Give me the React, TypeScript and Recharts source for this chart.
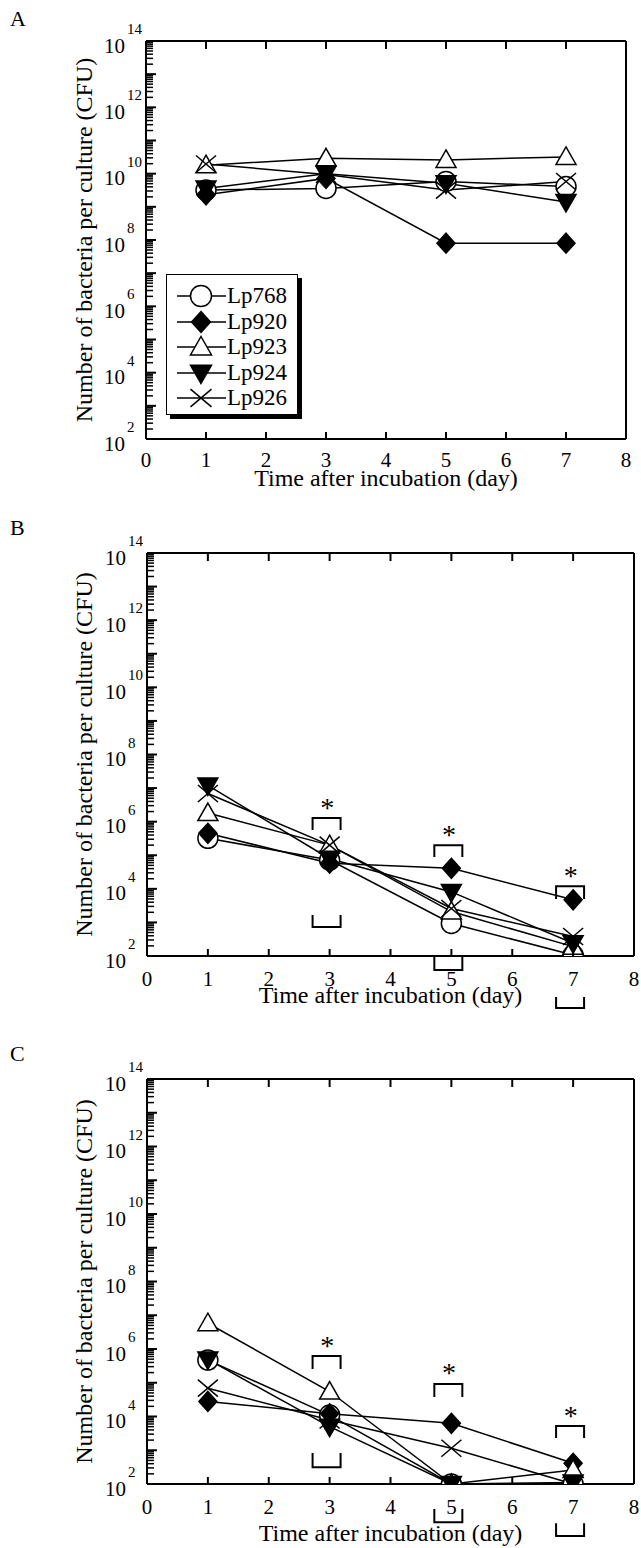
import React from 'react';
import { LineChart, Line, XAxis, YAxis, ReferenceArea, ReferenceDot, Legend } from 'recharts';

const FONT = "'Liberation Serif', 'Times New Roman', serif";

const days = [1, 3, 5, 7];
const strains = ['Lp768', 'Lp920', 'Lp923', 'Lp924', 'Lp926'];
const markers = ['circle', 'diamond', 'triangle', 'triangleDown', 'cross'];
const dayTicks = [0, 1, 2, 3, 4, 5, 6, 7, 8];

// CFU per culture (panel A)
const aLp768 = [3.2e9, 3.6e9, 5.8e9, 4.1e9];
const aLp920 = [2.3e9, 7.2e9, 8e7, 8e7];
const aLp923 = [1.8e10, 2.9e10, 2.6e10, 3.2e10];
const aLp924 = [3.6e9, 1e10, 5.1e9, 1.4e9];
const aLp926 = [1.95e10, 9.5e9, 3.2e9, 5.8e9];

// panel B
const bLp768 = [3.2e5, 7.2e4, 9.3e2, 1.07e2];
const bLp920 = [4.5e5, 5.8e4, 4.1e4, 4.7e3];
const bLp923 = [1.8e6, 2e5, 2.1e3, 1.9e2];
const bLp924 = [1.2e7, 7.9e4, 8.1e3, 2.4e2];
const bLp926 = [6.9e6, 2e5, 2.6e3, 3.8e2];

// panel C
const cLp768 = [4.7e5, 1.1e4, 1e2, 1e2];
const cLp920 = [2.8e4, 1.2e4, 6.3e3, 4.1e2];
const cLp923 = [5.8e6, 5.5e4, 1e2, 2.6e2];
const cLp924 = [4.9e5, 5e3, 1e2, 1.1e2];
const cLp926 = [6.9e4, 7.9e3, 1.15e3, 1e2];

// significance brackets: [day, upper exponent, lower exponent, legs]
const bBrackets: [number, number, number, string][] = [
  [3, 6.11, 5.75, 'down'], [3, 3.22, 2.86, 'up'],
  [5, 5.3, 4.95, 'down'], [5, 1.97, 1.58, 'up'],
  [7, 4.08, 3.7, 'down'], [7, 0.78, 0.45, 'up'],
];
const bStars = [[3, 6.5], [5, 5.69], [7, 4.47]];

const cBrackets: [number, number, number, string][] = [
  [3, 5.79, 5.41, 'down'], [3, 2.92, 2.5, 'up'],
  [5, 4.96, 4.58, 'down'], [5, 1.26, 0.87, 'up'],
  [7, 3.72, 3.36, 'down'], [7, 0.84, 0.46, 'up'],
];
const cStars = [[3, 6.18], [5, 5.38], [7, 4.1]];

// log axis ticks: every k*10^n, labelled on even decades
const yTicks: number[] = [];
for (let n = 2; n < 14; n++) for (let k = 1; k <= 9; k++) yTicks.push(k * Math.pow(10, n));
yTicks.push(1e14);

const toRows = (series: number[][]) =>
  days.map((d, i) => {
    const row: any = { day: d };
    strains.forEach((s, j) => (row[s] = series[j][i]));
    return row;
  });

const Marker = ({ kind, cx, cy, s = 10 }: any) => {
  const st = { stroke: '#000', strokeWidth: 1.5 };
  if (kind === 'circle') return <circle cx={cx} cy={cy} r={s} fill="#fff" {...st} />;
  if (kind === 'diamond')
    return <polygon points={`${cx},${cy - s} ${cx + s * 0.9},${cy} ${cx},${cy + s} ${cx - s * 0.9},${cy}`} fill="#000" {...st} />;
  if (kind === 'triangle')
    return <polygon points={`${cx},${cy - s} ${cx + s},${cy + s * 0.75} ${cx - s},${cy + s * 0.75}`} fill="#fff" {...st} />;
  if (kind === 'triangleDown')
    return <polygon points={`${cx},${cy + s} ${cx + s},${cy - s * 0.75} ${cx - s},${cy - s * 0.75}`} fill="#000" {...st} />;
  return (
    <g {...st}>
      <line x1={cx - s} y1={cy - s * 0.85} x2={cx + s} y2={cy + s * 0.85} />
      <line x1={cx - s} y1={cy + s * 0.85} x2={cx + s} y2={cy - s * 0.85} />
    </g>
  );
};

const YTick = ({ x, y, payload }: any) => {
  const px = Number(x);
  const py = Number(y);
  const e = Math.log10(payload.value);
  const exp = Math.round(e);
  const major = Math.abs(e - exp) < 1e-6;
  return (
    <g>
      <path d={`M${px},${py} H${px + (major ? 10 : 7)}`} stroke="#000" strokeWidth={major ? 2 : 1.5} fill="none" />
      {major && exp % 2 === 0 && (
        <g fontFamily={FONT} fill="#000">
          <text x={px - 21} y={py + 11.5} textAnchor="end" fontSize={21}>10</text>
          <text x={px - 19} y={py - 7} fontSize={15}>{exp}</text>
        </g>
      )}
    </g>
  );
};

// bottom ticks also carry the matching inward ticks on the top frame edge
const makeXTick = (gap: number, plotH: number) => ({ x, y, payload }: any) => {
  const px = Number(x);
  const py = Number(y);
  const inner = payload.value > 0 && payload.value < 8;
  return (
    <g>
      {inner && <path d={`M${px},${py} V${py - 7}`} stroke="#000" strokeWidth={2} fill="none" />}
      {inner && <path d={`M${px},${py - plotH} V${py - plotH + 8}`} stroke="#000" strokeWidth={2} fill="none" />}
      <text x={px} y={py + gap} textAnchor="middle" fontFamily={FONT} fontSize={21} fill="#000">{payload.value}</text>
    </g>
  );
};

const LegendBox = () => (
  <div style={{ position: 'relative', width: 132, height: 141, boxSizing: 'border-box', border: '1.5px solid #000', boxShadow: '4px 4px 0 #000', background: '#fff' }}>
    {strains.map((s, i) => (
      <div key={s} style={{ position: 'absolute', left: 0, top: 8 + i * 25.6, height: 26, display: 'flex', alignItems: 'center' }}>
        <svg width={60} height={26} style={{ display: 'block' }}>
          <line x1={10} x2={59} y1={13} y2={13} stroke="#000" strokeWidth={1.5} />
          <Marker kind={markers[i]} cx={34} cy={13} s={10.5} />
        </svg>
        <span style={{ fontFamily: FONT, fontSize: 23, lineHeight: '26px', color: '#000' }}>{s}</span>
      </div>
    ))}
  </div>
);

const Bracket = ({ x, y, width, height, legs }: any) => {
  const d = legs === 'down'
    ? `M${x},${y + height} V${y} H${x + width} V${y + height}`
    : `M${x},${y} V${y + height} H${x + width} V${y}`;
  return <path d={d} fill="none" stroke="#000" strokeWidth={2} />;
};

const Star = ({ cx, cy }: any) => (
  <text x={cx} y={cy + 12} textAnchor="middle" fontFamily={FONT} fontSize={28} fill="#000">*</text>
);

function Panel({ top, height, left, right, plotH, titleGap, tickGap, letter, letterY, series, brackets, stars, legend }: any) {
  const rows = toRows(series);
  const bottomH = height - 41 - plotH;
  return (
    <div style={{ position: 'absolute', left: 0, top, width: 641, height }}>
      <div style={{ position: 'absolute', left: 10, top: letterY, fontFamily: FONT, fontSize: 22, lineHeight: '22px', color: '#000' }}>{letter}</div>
      <LineChart width={641} height={height} data={rows} margin={{ top: 41, right: 0, bottom: 0, left: 0 }}>
        <XAxis
          xAxisId="b" dataKey="day" type="number" domain={[0, 8]} ticks={dayTicks} interval={0}
          height={bottomH} tickSize={0} tickMargin={0} tickLine={false} tick={makeXTick(tickGap, plotH)}
          axisLine={{ stroke: '#000', strokeWidth: 2 }} allowDataOverflow
          label={{
            content: (p: any) => (
              <text x={p.viewBox.x + p.viewBox.width / 2} y={p.viewBox.y + titleGap + 8} textAnchor="middle" fontFamily={FONT} fontSize={24} fill="#000">
                Time after incubation (day)
              </text>
            ),
          }}
        />
        <YAxis
          yAxisId="l" type="number" scale="log" domain={[1e2, 1e14]} ticks={yTicks} interval={0}
          width={left} tickSize={0} tickMargin={0} tickLine={false} tick={YTick}
          axisLine={{ stroke: '#000', strokeWidth: 2 }} allowDataOverflow
          label={{
            content: (p: any) => {
              const cy = p.viewBox.y + p.viewBox.height / 2;
              return (
                <text x={84} y={cy} transform={`rotate(-90 84 ${cy})`} textAnchor="middle" dominantBaseline="central" fontFamily={FONT} fontSize={24} fill="#000">
                  Number of bacteria per culture (CFU)
                </text>
              );
            },
          }}
        />
        <YAxis
          yAxisId="r" orientation="right" type="number" domain={[0, 1]} width={right}
          tick={false} tickLine={false} axisLine={{ stroke: '#000', strokeWidth: 2 }}
        />
        {/* top frame edge */}
        <ReferenceArea
          xAxisId="b" yAxisId="l" x1={0} x2={8} y1={1e14} y2={1e14} ifOverflow="visible"
          shape={(p: any) => <path d={`M${p.x},${p.y} H${p.x + p.width}`} stroke="#000" strokeWidth={2} fill="none" />}
        />
        {(brackets || []).map(([d, hi, lo, legs]: any, i: number) => (
          <ReferenceArea
            key={`br-${i}`} xAxisId="b" yAxisId="l" x1={d - 0.28} x2={d + 0.18}
            y1={Math.pow(10, lo)} y2={Math.pow(10, hi)} ifOverflow="visible"
            shape={(p: any) => <Bracket {...p} legs={legs} />}
          />
        ))}
        {(stars || []).map(([d, e]: any, i: number) => (
          <ReferenceDot key={`st-${i}`} xAxisId="b" yAxisId="l" x={d - 0.04} y={Math.pow(10, e)} ifOverflow="visible" shape={Star} />
        ))}
        {strains.map((s, i) => (
          <Line
            key={s} xAxisId="b" yAxisId="l" dataKey={s} name={s} type="linear" stroke="#000" strokeWidth={1.5}
            isAnimationActive={false} activeDot={false}
            dot={(p: any) => <Marker key={`${s}-${p.index}`} kind={markers[i]} cx={p.cx} cy={p.cy} />}
          />
        ))}
        {legend && (
          <Legend
            layout="vertical" align="center" verticalAlign="middle" content={LegendBox}
            wrapperStyle={{ left: 166, top: 274, width: 136, height: 145 }}
          />
        )}
      </LineChart>
    </div>
  );
}

export default function App() {
  return (
    <div style={{ position: 'absolute', left: 0, top: 0, width: 641, height: 1548, background: '#fff' }}>
      <Panel top={0} height={500} left={146} right={15} plotH={398} titleGap={39} tickGap={27.5} letter="A" letterY={8}
        series={[aLp768, aLp920, aLp923, aLp924, aLp926]} legend />
      <Panel top={512} height={540} left={147} right={7} plotH={403} titleGap={39} tickGap={29.5} letter="B" letterY={5}
        series={[bLp768, bLp920, bLp923, bLp924, bLp926]} brackets={bBrackets} stars={bStars} />
      <Panel top={1038} height={510} left={147} right={7} plotH={405} titleGap={49} tickGap={29.5} letter="C" letterY={5}
        series={[cLp768, cLp920, cLp923, cLp924, cLp926]} brackets={cBrackets} stars={cStars} />
    </div>
  );
}
